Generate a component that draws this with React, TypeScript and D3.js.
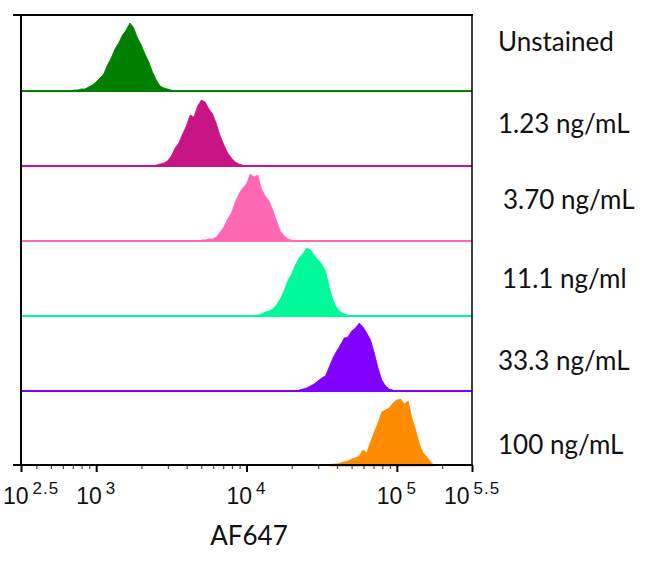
import React, { useRef, useEffect } from 'react';
import * as d3 from 'd3';

// Sample labels, top to bottom
const labels = ['Unstained', '1.23 ng/mL', '3.70 ng/mL', '11.1 ng/ml', '33.3 ng/mL', '100 ng/mL'];
const colors = ['#008000', '#c71585', '#ff69b4', '#00fa9a', '#7f00ff', '#ff8c00'];

const binWidth = 0.025;
const binStarts = [2.85, 3.4, 3.7, 4.05, 4.35, 4.55];
const unstained = [1, 1, 2, 2, 4, 6, 9, 13, 17, 26, 33, 42, 48, 56, 61, 68, 63, 53, 46, 37, 29, 19, 11, 5, 3, 2, 1];
const conc123 = [1, 2, 3, 5, 10, 18, 23, 32, 40, 51, 49, 60, 66, 64, 57, 52, 42, 30, 21, 13, 8, 4, 2, 1];
const conc370 = [1, 1, 2, 2, 4, 9, 14, 22, 28, 39, 47, 53, 57, 67, 64, 66, 52, 45, 40, 31, 20, 10, 5, 2, 1];
const conc111 = [1, 1, 2, 4, 5, 7, 11, 17, 25, 35, 42, 51, 58, 62, 68, 66, 61, 56, 52, 45, 29, 16, 8, 4, 2, 1];
const conc333 = [1, 2, 3, 5, 7, 10, 13, 15, 24, 33, 40, 46, 53, 54, 60, 63, 68, 64, 58, 51, 38, 23, 11, 5, 2, 1];
const conc100 = [1, 2, 2, 3, 4, 5, 7, 8, 10, 16, 13, 24, 34, 43, 54, 56, 58, 63, 66, 67, 62, 65, 48, 36, 22, 13, 9, 4, 0];
const series = [unstained, conc123, conc370, conc111, conc333, conc100];

const majorTickExponents = [2.5, 3, 4, 5, 5.5];
const majorTickLabels = ['2.5', '3', '4', '5', '5.5'];

export default function App() {
  const svgRef = useRef<SVGSVGElement>(null);

  useEffect(() => {
    if (!svgRef.current) return;
    const svg = d3.select(svgRef.current);
    svg.selectAll('*').remove();

    const left = 21, right = 472, top = 15, bottom = 465;

    const x = d3.scaleLog()
      .domain([10 ** majorTickExponents[0], 10 ** majorTickExponents[majorTickExponents.length - 1]])
      .range([left, right]);
    const band = d3.scaleBand().domain(labels).range([top + 1, bottom + 1]);
    const h = d3.scaleLinear().domain([0, 75]).range([0, band.bandwidth()]);

    // histograms
    labels.forEach((label, i) => {
      const base = (band(label) || 0) + band.bandwidth();
      const pts = series[i].map((c, k) => ({ v: 10 ** (binStarts[i] + k * binWidth), c }));

      if (i < labels.length - 1) {
        svg.append('line')
          .attr('x1', left).attr('x2', right)
          .attr('y1', base).attr('y2', base)
          .attr('stroke', colors[i])
          .attr('stroke-width', 2);
      }

      const area = d3.area<{ v: number; c: number }>()
        .x(d => x(d.v))
        .y0(base)
        .y1(d => base - h(d.c));

      svg.append('path')
        .datum(pts)
        .attr('d', area)
        .attr('fill', colors[i])
        .attr('stroke', colors[i])
        .attr('stroke-width', 0.8);
    });

    // minor ticks
    const majors = majorTickExponents.map(e => 10 ** e);
    const minors = x.ticks().filter(t => majors.every(m => Math.abs(x(m) - x(t)) > 4));

    svg.append('g')
      .attr('transform', `translate(0,${bottom})`)
      .call(d3.axisBottom(x).tickValues(minors).tickSize(4).tickFormat(() => ''))
      .call(g => g.select('.domain').remove())
      .call(g => g.selectAll('.tick line').attr('stroke', '#444').attr('stroke-width', 1.2));

    svg.append('g')
      .attr('transform', `translate(0,${bottom})`)
      .call(d3.axisBottom(x).tickValues(majors).tickSize(7).tickFormat(() => ''))
      .call(g => g.select('.domain').remove())
      .call(g => g.selectAll('.tick line').attr('stroke', '#000').attr('stroke-width', 2));

    // frame
    svg.append('line').attr('x1', 13).attr('x2', right + 1).attr('y1', top).attr('y2', top)
      .attr('stroke', '#000').attr('stroke-width', 2);
    svg.append('line').attr('x1', 13).attr('x2', right + 1).attr('y1', bottom).attr('y2', bottom)
      .attr('stroke', '#000').attr('stroke-width', 2);
    svg.append('line').attr('x1', left).attr('x2', left).attr('y1', top).attr('y2', bottom)
      .attr('stroke', '#000').attr('stroke-width', 2);
    svg.append('line').attr('x1', right).attr('x2', right).attr('y1', top).attr('y2', bottom)
      .attr('stroke', '#000').attr('stroke-width', 1.5);

    // tick labels 10^n
    majors.forEach((m, i) => {
      const t = svg.append('text')
        .attr('x', x(m))
        .attr('y', bottom + 39)
        .attr('text-anchor', 'middle')
        .style('font-family', '"Liberation Sans", Arial, sans-serif')
        .style('font-size', '23px')
        .style('fill', '#111');
      t.append('tspan').text('10');
      t.append('tspan')
        .attr('dx', 4)
        .attr('dy', -10)
        .style('font-size', '17px')
        .style('letter-spacing', '1px')
        .text(majorTickLabels[i]);
      const bb = (t.node() as SVGTextElement).getBBox();
      if (bb.x < 3) t.attr('x', x(m) + 3 - bb.x);
    });

    // sample labels
    const labelDx = [0, 0, 5, 4, 0, 0];
    const labelDy = [35, 42, 43, 47, 54, 63];
    labels.forEach((label, i) => {
      svg.append('text')
        .attr('x', 498 + labelDx[i])
        .attr('y', (band(label) || 0) + labelDy[i])
        .style('font-family', 'Lato, sans-serif')
        .style('font-size', '26px')
        .style('fill', '#111')
        .text(label);
    });

    // axis title
    svg.append('text')
      .attr('x', 249)
      .attr('y', 545)
      .attr('text-anchor', 'middle')
      .style('font-family', 'Lato, sans-serif')
      .style('font-size', '26px')
      .style('fill', '#111')
      .text('AF647');
  }, []);

  return (
    <svg
      ref={svgRef}
      width={650}
      height={573}
      style={{ position: 'absolute', left: 0, top: 0, background: '#fff' }}
    />
  );
}
